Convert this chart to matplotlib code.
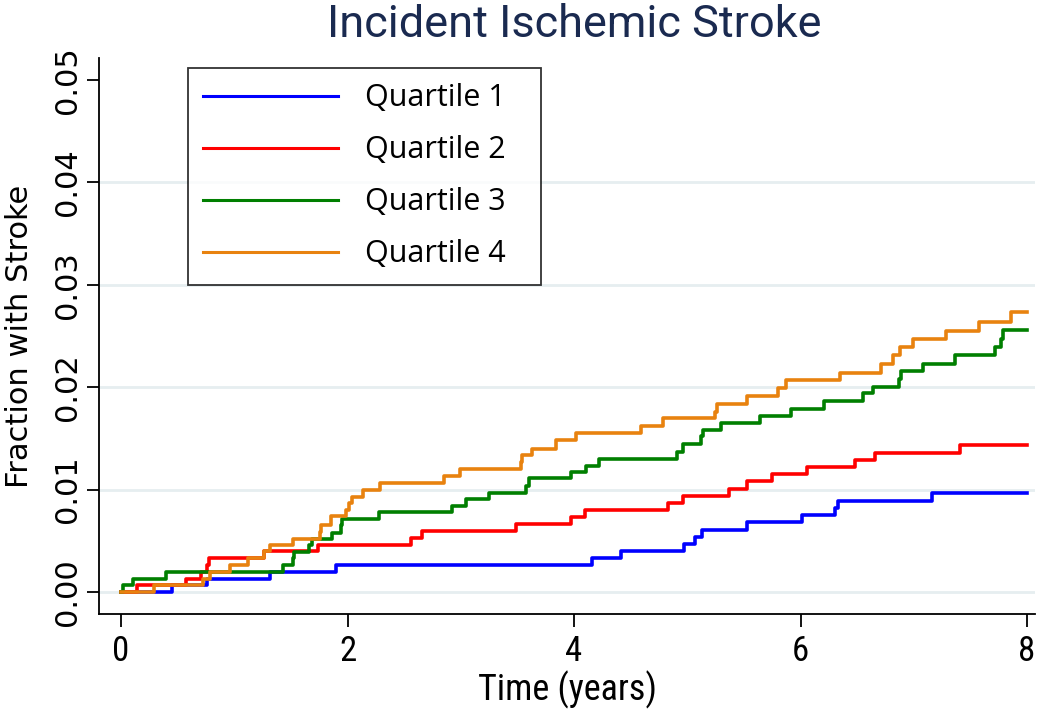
import numpy as np
import matplotlib
matplotlib.use('Agg')
import matplotlib.pyplot as plt

# step times (years) and cumulative fraction with stroke
q1_t = [0, 0.45, 0.76, 1.32, 1.90, 4.16, 4.415, 4.97, 5.07, 5.13, 5.53, 6.01, 6.30, 6.33, 7.16, 8.0]
q1_y = [0, 0.0007, 0.0013, 0.0020, 0.0026, 0.0033, 0.0040, 0.0047, 0.0054, 0.0061, 0.0068,
        0.0075, 0.0082, 0.0089, 0.0097, 0.0097]

q2_t = [0, 0.14, 0.57, 0.71, 0.76, 0.78, 1.26, 1.74, 2.56, 2.66, 3.49, 3.97, 4.10, 4.83,
        4.96, 5.37, 5.53, 5.75, 6.06, 6.48, 6.66, 7.41, 8.0]
q2_y = [0, 0.0007, 0.0013, 0.0020, 0.0026, 0.0033, 0.0040, 0.0046, 0.0053, 0.0060, 0.0066,
        0.0073, 0.0080, 0.0087, 0.0094, 0.0101, 0.0108, 0.0115, 0.0122, 0.0129, 0.0136,
        0.0144, 0.0144]

q3_t = [0, 0.015, 0.11, 0.40, 1.43, 1.52, 1.53, 1.66, 1.69, 1.86, 1.94, 1.95, 2.28, 2.92,
        3.05, 3.25, 3.58, 3.60, 3.97, 4.11, 4.22, 4.91, 4.965, 5.12, 5.14, 5.30, 5.64, 5.92,
        6.21, 6.55, 6.64, 6.87, 6.89, 7.08, 7.36, 7.72, 7.77, 7.79, 8.0]
q3_y = [0, 0.0007, 0.0013, 0.0020, 0.0026, 0.0033, 0.0039, 0.0046, 0.0052, 0.0058, 0.0065,
        0.0071, 0.0078, 0.0084, 0.0091, 0.0097, 0.0104, 0.0111, 0.0117, 0.0123, 0.0130,
        0.0137, 0.0145, 0.0152, 0.0158, 0.0165, 0.0172, 0.0179, 0.0187, 0.0194, 0.0200,
        0.0208, 0.0216, 0.0223, 0.0231, 0.0239, 0.0247, 0.0256, 0.0256]

q4_t = [0, 0.29, 0.72, 0.79, 0.96, 1.12, 1.26, 1.32, 1.52, 1.76, 1.77, 1.85, 1.99, 2.01,
        2.04, 2.14, 2.29, 2.855, 2.99, 3.53, 3.54, 3.63, 3.84, 4.02, 4.59, 4.79, 5.245,
        5.26, 5.53, 5.80, 5.87, 6.35, 6.71, 6.82, 6.88, 6.99, 7.28, 7.58, 7.86, 8.0]
q4_y = [0, 0.0007, 0.0013, 0.0020, 0.0026, 0.0033, 0.0040, 0.0046, 0.0052, 0.0059, 0.0065,
        0.0074, 0.0080, 0.0087, 0.0093, 0.0100, 0.0106, 0.0113, 0.0120, 0.0127, 0.0134,
        0.0140, 0.0148, 0.0155, 0.0162, 0.0170, 0.0176, 0.0184, 0.0191, 0.0199, 0.0207,
        0.0214, 0.0223, 0.0231, 0.0239, 0.0247, 0.0255, 0.0264, 0.0273, 0.0273]

labels = ['Quartile 1', 'Quartile 2', 'Quartile 3', 'Quartile 4']
colors = ['#0000ff', '#ff0000', '#007f00', '#e8820f']

xticks = [0, 2, 4, 6, 8]
yticks = [0.00, 0.01, 0.02, 0.03, 0.04, 0.05]

# condensed faces if any are around, plain DejaVu otherwise
narrow = ['Roboto Condensed', 'Noto Sans Condensed', 'DejaVu Sans Condensed',
          'Liberation Sans Narrow', 'DejaVu Sans']

fig = plt.figure(figsize=(10.5, 7.1), dpi=100)
ax = fig.add_axes([0.0943, 0.1352, 0.8914, 0.7831])

for yy in yticks[:-1]:
    ax.axhline(yy, color='#e6eef0', lw=2, zorder=0)

series = [(q1_t, q1_y), (q2_t, q2_y), (q3_t, q3_y), (q4_t, q4_y)]
for (t, y), lab, c in zip(series, labels, colors):
    ax.step(t, y, where='post', color=c, lw=2.6, label=lab)

ax.set_xlim(-0.194, 8.07)
ax.set_ylim(-0.00215, 0.05215)

for s in ('top', 'right'):
    ax.spines[s].set_visible(False)
for s in ('left', 'bottom'):
    ax.spines[s].set_linewidth(1.3)

ax.set_xticks(xticks)
ax.set_xticklabels([str(v) for v in xticks], family=narrow, stretch='condensed', fontsize=25)
ax.set_yticks(yticks)
ax.set_yticklabels(['%.2f' % v for v in yticks], family='DejaVu Sans', fontsize=22,
                   rotation=90, va='center')
ax.tick_params(axis='both', direction='out', length=9, width=1.3)
ax.tick_params(axis='x', pad=6)
ax.tick_params(axis='y', pad=3)

ax.set_xlabel('Time (years)', family=narrow, stretch='condensed', fontsize=26, labelpad=2)
ax.set_ylabel('Fraction with Stroke', family='DejaVu Sans', fontsize=22, labelpad=14)
fig.text(0.5465, 0.948, 'Incident Ischemic Stroke', family=['Roboto', 'DejaVu Sans'],
         fontsize=32.5, color='#1a2a50', ha='center', va='baseline')

leg = ax.legend(loc='upper left', bbox_to_anchor=(0.095, 0.588, 0.377, 0.394), mode='expand',
                prop={'family': 'Open Sans', 'size': 22},
                handlelength=4.4, handletextpad=0.9, labelspacing=0.72, borderpad=0.5,
                fancybox=False, frameon=True, borderaxespad=0)
leg.get_frame().set_edgecolor('black')
leg.get_frame().set_linewidth(1.3)
for h in leg.get_lines():
    h.set_linewidth(2.2)

fig.savefig('out.png', dpi=100)
